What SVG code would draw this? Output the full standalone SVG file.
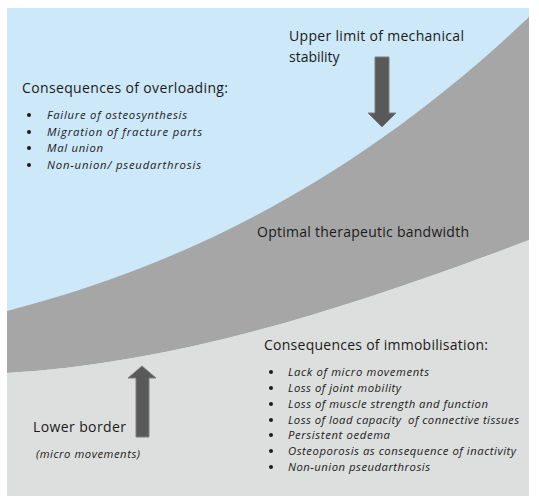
<svg xmlns="http://www.w3.org/2000/svg" width="539" height="501" viewBox="0 0 539 501">
<style>
.h{font-family:"Open Sans","Liberation Sans",sans-serif;font-size:14px;fill:#1a1a1a}
.i{font-family:"Open Sans","Liberation Sans",sans-serif;font-size:11.3px;font-style:italic;fill:#1a1a1a}
.b{fill:#1a1a1a}
.arr{fill:#595959;stroke:#7f7f7f;stroke-width:1}
</style>
<rect x="0" y="0" width="539" height="501" fill="#ffffff"/>
<g id="zones">
<rect id="overload-zone" x="7" y="8" width="522" height="488" fill="#cde8f9"/>
<path id="band" d="M7,311 C181,266 355,182 529,17 L529,240 C355,306 181,363 7,373 Z" fill="#a6a6a6"/>
<path id="immob-zone" d="M7,373 C181,363 355,306 529,240 L529,496 L7,496 Z" fill="#dddfde"/>
</g>
<g id="connectors">
<polygon class="arr" points="375,57 389,57 389,113 396,113 382,127 368,113 375,113"/>
<polygon class="arr" points="142,366 156,378 149,378 149,437 136,437 136,378 128,378"/>
</g>
<g id="upper-limit">
<text class="h" x="289" y="41" textLength="175">Upper limit of mechanical</text>
<text class="h" x="289" y="62">stability</text>
</g>
<g id="overloading">
<text class="h" x="22" y="93" textLength="206">Consequences of overloading:</text>
<circle class="b" cx="29" cy="115" r="2"/>
<circle class="b" cx="29" cy="132" r="2"/>
<circle class="b" cx="29" cy="148" r="2"/>
<circle class="b" cx="29" cy="165" r="2"/>
<text class="i" x="47" y="119" textLength="140">Failure of osteosynthesis</text>
<text class="i" x="47" y="136" textLength="155">Migration of fracture parts</text>
<text class="i" x="47" y="152" textLength="56">Mal union</text>
<text class="i" x="47" y="169" textLength="154">Non-union/ pseudarthrosis</text>
</g>
<g id="bandwidth">
<text class="h" x="257" y="237" textLength="212">Optimal therapeutic bandwidth</text>
</g>
<g id="immobilisation">
<text class="h" x="264" y="350" textLength="224">Consequences of immobilisation:</text>
<circle class="b" cx="271" cy="372" r="2"/>
<circle class="b" cx="271" cy="388" r="2"/>
<circle class="b" cx="271" cy="404" r="2"/>
<circle class="b" cx="271" cy="420" r="2"/>
<circle class="b" cx="271" cy="435" r="2"/>
<circle class="b" cx="271" cy="451" r="2"/>
<circle class="b" cx="271" cy="467" r="2"/>
<text class="i" x="288" y="376" textLength="141">Lack of micro movements</text>
<text class="i" x="288" y="392" textLength="113">Loss of joint mobility</text>
<text class="i" x="288" y="408" textLength="200">Loss of muscle strength and function</text>
<text class="i" x="288" y="424" textLength="231" xml:space="preserve">Loss of load capacity  of connective tissues</text>
<text class="i" x="288" y="439" textLength="102">Persistent oedema</text>
<text class="i" x="288" y="455" textLength="228">Osteoporosis as consequence of inactivity</text>
<text class="i" x="288" y="471" textLength="142">Non-union pseudarthrosis</text>
</g>
<g id="lower-border">
<text class="h" x="33" y="432" textLength="93">Lower border</text>
<text class="i" x="36" y="458" textLength="104">(micro movements)</text>
</g>
</svg>
